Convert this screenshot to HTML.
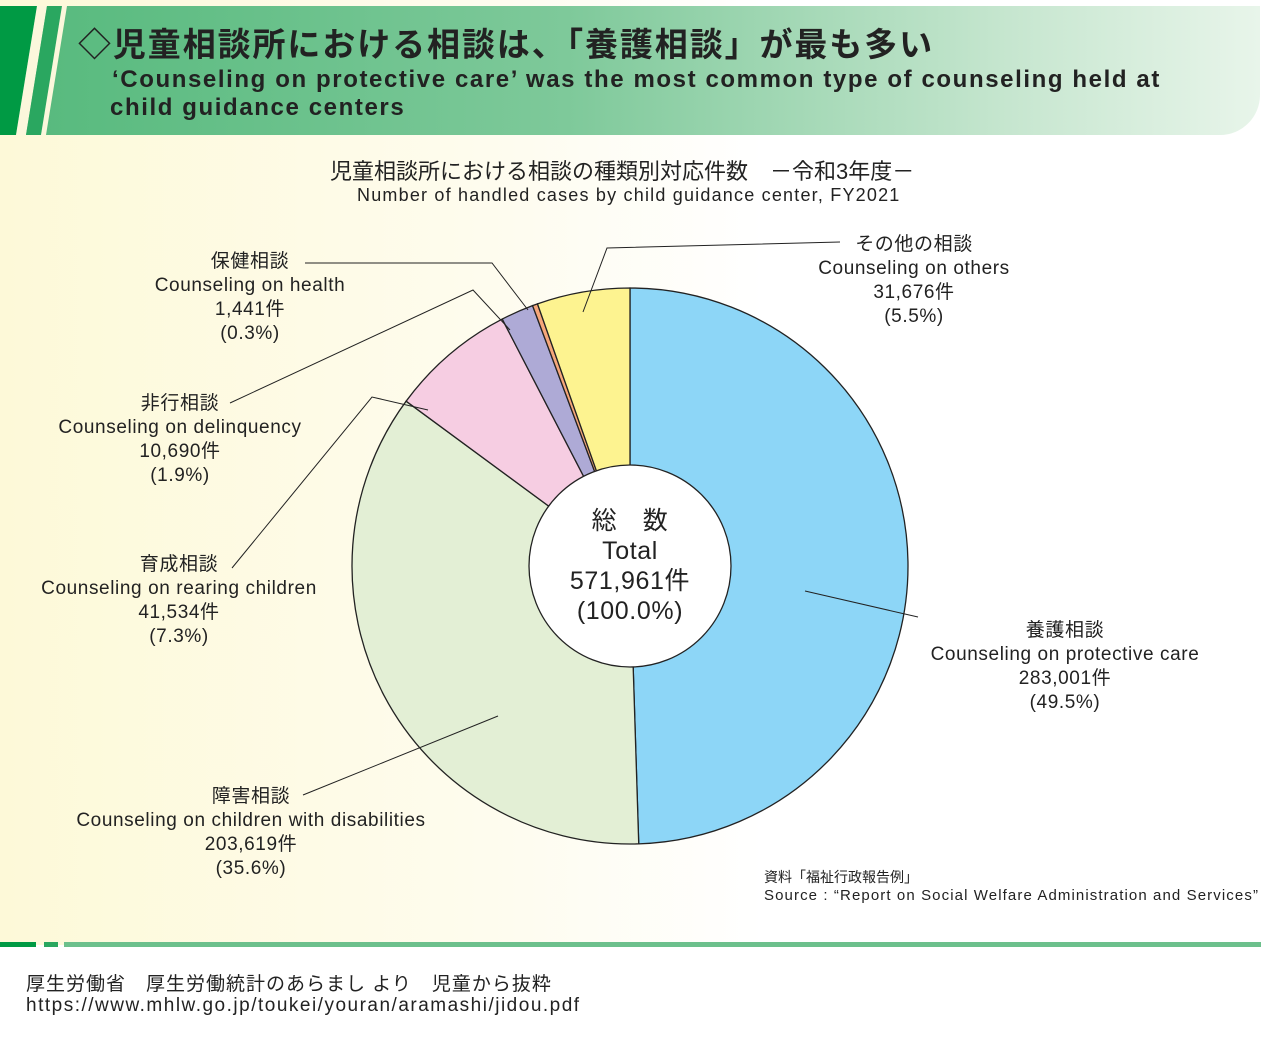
<!DOCTYPE html>
<html><head><meta charset="utf-8"><style>
body{margin:0;width:1271px;height:1040px;background:#fff;font-family:"Liberation Sans","Noto Sans CJK JP",sans-serif;position:relative;overflow:hidden}
.bg{position:absolute;left:0;top:0;width:1271px;height:945px;background:linear-gradient(90deg,#fdf9d8 0%,#fefcef 40%,#fff 60%)}
.hdr{position:absolute;left:0;top:6px;width:1260px;height:129px;background:linear-gradient(90deg,#55b97c 0%,#7ec99a 45%,#c6e6cf 80%,#e8f5ea 100%);border-radius:0 0 40px 0}
.t{position:absolute;color:#222;white-space:nowrap}
.l{letter-spacing:0.6px}
</style></head><body>
<div class="bg"></div>
<div class="hdr"></div>
<svg style="position:absolute;left:0;top:0" width="1271" height="1040">
<polygon points="0,6 37,6 16,135 0,135" fill="#009a44"/>
<polygon points="37,6 47,6 26,135 16,135" fill="#fbf7dc"/>
<polygon points="47,6 62,6 41,135 26,135" fill="#2aa760"/>
<polygon points="62,6 67,6 46,135 41,135" fill="#fbf7dc"/>
<rect x="0" y="942" width="36" height="5" fill="#009a44"/>
<rect x="44" y="942" width="14" height="5" fill="#2aa760"/>
<rect x="64" y="942" width="1197" height="5" fill="#6cc08c"/>
<g id="pie"></g>
<g stroke="#222" stroke-width="1" fill="none">
<polyline points="305,263 492,263 528,310"/>
<polyline points="230,403 473,290 510,330"/>
<polyline points="232,568 372,397 428,410"/>
<polyline points="303,795 498,716"/>
<polyline points="840,242 607,248 583,312"/>
<polyline points="918,617 805,591"/>
</g>
</svg>
<div class="t" style="left:78px;top:18px;font-size:33px;font-weight:bold;letter-spacing:1.9px">◇児童相談所における相談は、「養護相談」が最も多い</div>
<div class="t" style="left:112px;top:66px;font-size:24px;font-weight:bold;letter-spacing:1.6px">‘Counseling on protective care’ was the most common type of counseling held at</div>
<div class="t" style="left:110px;top:94px;font-size:24px;font-weight:bold;letter-spacing:1.6px">child guidance centers</div>
<div class="t" style="left:330px;top:154px;font-size:22px">児童相談所における相談の種類別対応件数　－令和3年度－</div>
<div class="t" style="left:357px;top:185px;font-size:18px;letter-spacing:1.2px">Number of handled cases by child guidance center, FY2021</div>
<div class="t l" style="left:150px;top:250px;font-size:19px;text-align:center;width:200px;line-height:24px">保健相談<br>Counseling on health<br>1,441件<br>(0.3%)</div>
<div class="t l" style="left:55px;top:392px;font-size:19px;text-align:center;width:250px;line-height:24px">非行相談<br>Counseling on delinquency<br>10,690件<br>(1.9%)</div>
<div class="t l" style="left:38px;top:553px;font-size:19px;text-align:center;width:282px;line-height:24px">育成相談<br>Counseling on rearing children<br>41,534件<br>(7.3%)</div>
<div class="t l" style="left:70px;top:785px;font-size:19px;text-align:center;width:362px;line-height:24px">障害相談<br>Counseling on children with disabilities<br>203,619件<br>(35.6%)</div>
<div class="t l" style="left:813px;top:233px;font-size:19px;text-align:center;width:202px;line-height:24px">その他の相談<br>Counseling on others<br>31,676件<br>(5.5%)</div>
<div class="t l" style="left:925px;top:619px;font-size:19px;text-align:center;width:280px;line-height:24px">養護相談<br>Counseling on protective care<br>283,001件<br>(49.5%)</div>
<div class="t l" style="left:530px;top:506px;font-size:25px;text-align:center;width:200px;line-height:30px">総　数<br>Total<br>571,961件<br>(100.0%)</div>
<div class="t" style="left:764px;top:867px;font-size:14px">資料「福祉行政報告例」</div>
<div class="t" style="left:764px;top:887px;font-size:15px;letter-spacing:1.1px">Source : “Report on Social Welfare Administration and Services”</div>
<div class="t" style="left:26px;top:969px;font-size:19px;letter-spacing:1px">厚生労働省　厚生労働統計のあらまし より　児童から抜粋</div>
<div class="t" style="left:26px;top:995px;font-size:19px;letter-spacing:1.5px">https://www.mhlw.go.jp/toukei/youran/aramashi/jidou.pdf</div>
<script>
var cx=630,cy=566,R=278,vals=[49.5,35.6,7.3,1.9,0.3,5.4],cols=["#8dd6f7","#e3efd5","#f6cde2","#aeaad6","#f6a77a","#fdf390"];
var a=0,s="";
function p(t){return [cx+R*Math.sin(t*Math.PI/180),cy-R*Math.cos(t*Math.PI/180)];}
for(var i=0;i<vals.length;i++){var b=a+vals[i]*3.6;if(i==vals.length-1)b=360;var P=p(a),Q=p(b);
s+='<path d="M'+cx+','+cy+' L'+P[0]+','+P[1]+' A'+R+','+R+' 0 '+((b-a)>180?1:0)+' 1 '+Q[0]+','+Q[1]+' Z" fill="'+cols[i]+'" stroke="#222" stroke-width="1.3"/>';a=b;}
s+='<circle cx="'+cx+'" cy="'+cy+'" r="101" fill="#fff" stroke="#222" stroke-width="1.3"/>';
document.getElementById("pie").innerHTML=s;
</script>
</body></html>
